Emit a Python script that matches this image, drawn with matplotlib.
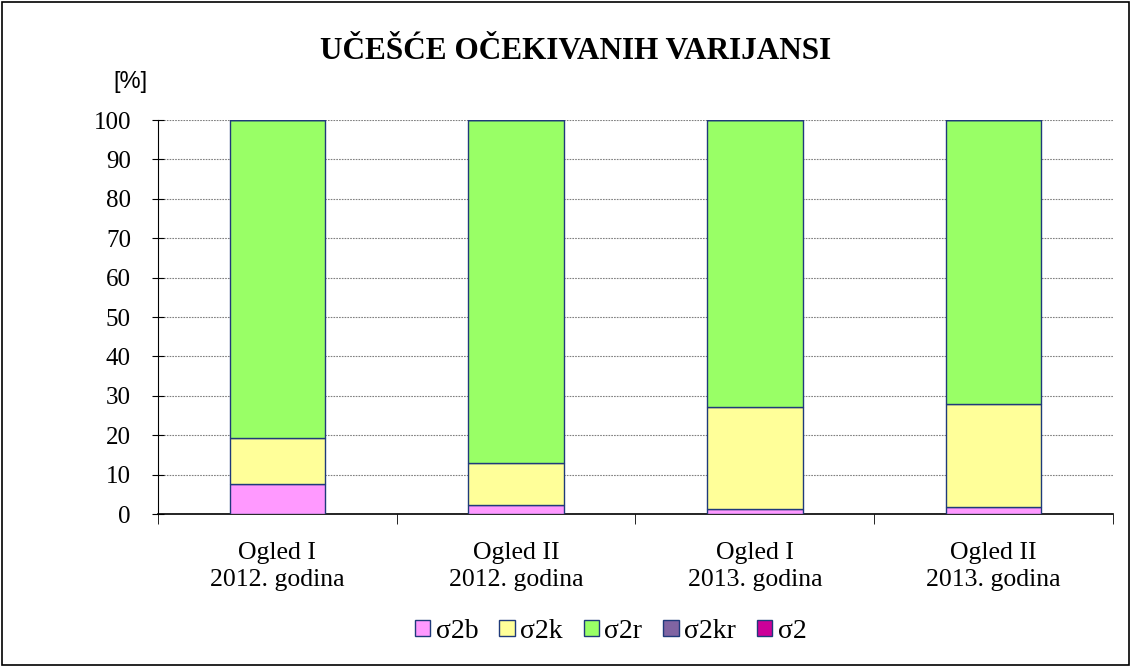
import matplotlib
matplotlib.use("Agg")
import matplotlib.pyplot as plt
import numpy as np

categories = ["Ogled I\n2012. godina", "Ogled II\n2012. godina", "Ogled I\n2013. godina", "Ogled II\n2013. godina"]
series_names = ["σ2b", "σ2k", "σ2r", "σ2kr", "σ2"]
s2b = [7.6, 2.3, 1.2, 1.8]
s2k = [11.7, 10.6, 26.0, 26.2]
s2r = [80.7, 87.1, 72.8, 72.0]
s2kr = [0.0, 0.0, 0.0, 0.0]
s2 = [0.0, 0.0, 0.0, 0.0]
yticks = list(range(0, 101, 10))

colors = ["#FF99FF", "#FFFF99", "#99FF66", "#8064A2", "#CC0099"]
edge = "#1F3A7A"

fig = plt.figure(figsize=(11.31, 6.66), dpi=100)
ax = fig.add_axes([0.1397, 0.2282, 0.8443, 0.5916])

x = np.arange(len(categories))
bottom = np.zeros(len(categories))
handles = []
for name, vals, c in zip(series_names, [s2b, s2k, s2r, s2kr, s2], colors):
    b = ax.bar(x, vals, width=0.4, bottom=bottom, color=c, edgecolor=edge, linewidth=1.0, label=name, zorder=3)
    bottom += np.array(vals)
    handles.append(b)

ax.set_xlim(-0.5, len(categories) - 0.5)
ax.set_ylim(0, 100)
ax.set_yticks(yticks)
ax.set_yticklabels([str(t) for t in yticks], fontfamily="Liberation Serif", fontsize=18)
ax.set_xticks(x)
ax.set_xticklabels(categories, fontfamily="Liberation Serif", fontsize=18.5, linespacing=1.3)
ax.tick_params(axis="x", which="major", length=0, pad=20)
ax.set_xticks(np.arange(-0.5, len(categories), 1.0), minor=True)
ax.tick_params(axis="x", which="minor", length=7, direction="out", color="black")
ax.tick_params(axis="y", length=9, direction="inout", color="black", pad=15)
ax.yaxis.grid(True, linestyle=(0, (1.5, 1.0)), color="#808080", linewidth=0.8, zorder=0)
ax.set_axisbelow(True)
for sp in ["top", "right"]:
    ax.spines[sp].set_visible(False)
ax.spines["left"].set_color("black")
ax.spines["bottom"].set_color("black")
ax.spines["bottom"].set_linewidth(1.2)

fig.text(0.509, 0.923, "UČEŠĆE OČEKIVANIH VARIJANSI", ha="center", va="center",
         fontfamily="Liberation Serif", fontweight="bold", fontsize=22.5)
fig.text(0.115, 0.877, "[%]", ha="center", va="center", fontfamily="Liberation Sans", fontsize=17)

leg = fig.legend(handles=handles, labels=series_names, loc="center", bbox_to_anchor=(0.54, 0.052),
                 ncol=5, frameon=False, prop={"family": "Liberation Serif", "size": 20},
                 handlelength=0.55, handleheight=0.55, handletextpad=0.2, columnspacing=0.75)

fig.patches.append(plt.Rectangle((0.002, 0.002), 0.996, 0.995, transform=fig.transFigure,
                                 fill=False, edgecolor="black", linewidth=1.2))

fig.savefig("out.png", dpi=100)
